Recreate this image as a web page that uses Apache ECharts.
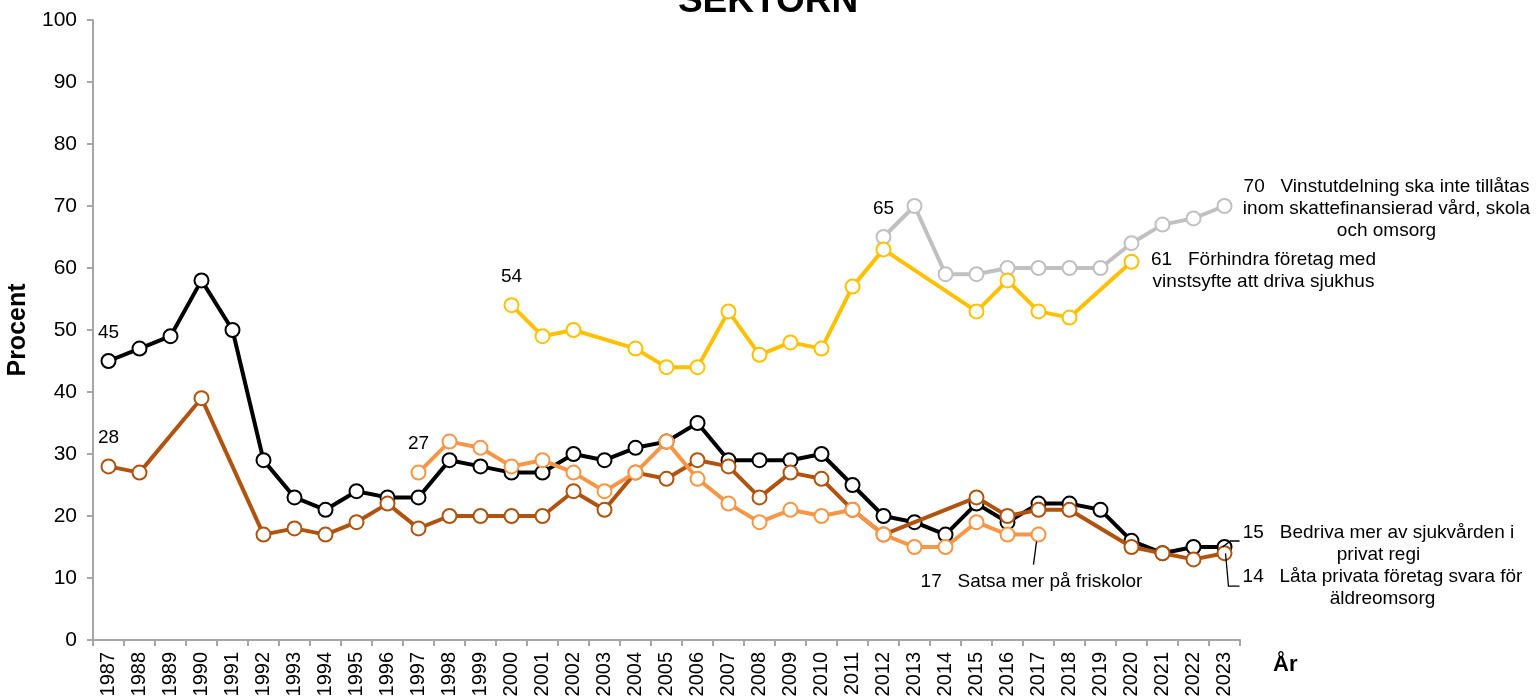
<!DOCTYPE html>
<html>
<head>
<meta charset="utf-8">
<script src="https://cdn.jsdelivr.net/npm/echarts@6/dist/echarts.min.js"></script>
<style>
  html, body { margin: 0; padding: 0; background: #fff; }
  #chart { width: 1536px; height: 699px; }
</style>
</head>
<body>
<div id="chart"></div>
<script>
// Survey years
const years = ['1987','1988','1989','1990','1991','1992','1993','1994','1995','1996','1997','1998','1999',
  '2000','2001','2002','2003','2004','2005','2006','2007','2008','2009','2010','2011','2012','2013',
  '2014','2015','2016','2017','2018','2019','2020','2021','2022','2023'];

// Percent agreeing with each proposal (null = not asked that year)
const vinstutdelning = [null,null,null,null,null,null,null,null,null,null,null,null,null,
  null,null,null,null,null,null,null,null,null,null,null,null,65,70,
  59,59,60,60,60,60,64,67,68,70];
const forhindraSjukhus = [null,null,null,null,null,null,null,null,null,null,null,null,null,
  54,49,50,null,47,44,44,53,46,48,47,57,63,null,
  null,53,58,53,52,null,61,null,null,null];
const privatSjukvard = [45,47,49,58,50,29,23,21,24,23,23,29,28,
  27,27,30,29,31,32,35,29,29,29,30,25,20,19,
  17,22,19,22,22,21,16,14,15,15];
const aldreomsorg = [28,27,null,39,null,17,18,17,19,22,18,20,20,
  20,20,24,21,27,26,29,28,23,27,26,21,17,null,
  null,23,20,21,21,null,15,14,13,14];
const friskolor = [null,null,null,null,null,null,null,null,null,null,27,32,31,
  28,29,27,24,27,32,26,22,19,21,20,21,17,15,
  15,19,17,17,null,null,null,null,null,null];

const yTicks = [0,10,20,30,40,50,60,70,80,90,100];

const FONT = '"Liberation Sans", Arial, Helvetica, sans-serif';
const SYM = 14;

function lastIndex(arr) {
  for (let i = arr.length - 1; i >= 0; i--) if (arr[i] != null) return i;
  return -1;
}
function firstIndex(arr) {
  for (let i = 0; i < arr.length; i++) if (arr[i] != null) return i;
  return -1;
}

// Build series data: value label above the first point, caption beside the last point
function buildData(arr, startLabel, endText, endOffset) {
  const f = firstIndex(arr), l = lastIndex(arr);
  return arr.map((v, i) => {
    if (v == null) return null;
    const item = { value: v };
    if (startLabel && i === f) {
      item.label = {
        show: true, position: 'top', distance: 11,
        formatter: String(v), color: '#000', fontSize: 19, fontFamily: FONT
      };
    }
    if (endText && i === l) {
      item.label = {
        show: true,
        position: [SYM / 2 + endOffset[0], SYM / 2 + endOffset[1]],
        align: 'center', verticalAlign: 'middle',
        formatter: v + '   ' + endText,
        color: '#000', fontSize: 19, lineHeight: 22, fontFamily: FONT
      };
    }
    return item;
  });
}

function lineSeries(name, color, data, z) {
  return {
    name: name, type: 'line', data: data, connectNulls: true, z: z,
    symbol: 'circle', symbolSize: SYM,
    lineStyle: { color: color, width: 4 },
    itemStyle: { color: '#fff', borderColor: color, borderWidth: 2 },
    emphasis: { disabled: true },
    animation: false
  };
}

const series = [
  lineSeries('Vinstutdelning', '#C0C0C0',
    buildData(vinstutdelning, true,
      'Vinstutdelning ska inte tillåtas\ninom skattefinansierad vård, skola\noch omsorg', [163, 4]), 2),
  lineSeries('Bedriva', '#000000',
    buildData(privatSjukvard, true, 'Bedriva mer av sjukvården i\nprivat regi', [155, -2]), 3),
  lineSeries('Äldreomsorg', '#B0530F',
    buildData(aldreomsorg, true, 'Låta privata företag svara för\näldreomsorg', [159, 36]), 4),
  lineSeries('Friskolor', '#F79646',
    buildData(friskolor, true, 'Satsa mer på friskolor', [-6, 48]), 5),
  lineSeries('Sjukhus', '#FFC000',
    buildData(forhindraSjukhus, true, 'Förhindra företag med\nvinstsyfte att driva sjukhus', [133, 10]), 6)
];

const chart = echarts.init(document.getElementById('chart'), null, { renderer: 'canvas' });

chart.setOption({
  backgroundColor: '#fff',
  animation: false,
  title: {
    text: 'SEKTORN', left: 'center', top: -22,
    textStyle: { fontSize: 37, fontWeight: 'bold', color: '#000', fontFamily: FONT }
  },
  grid: { left: 93, right: 296, top: 20, bottom: 59, containLabel: false, outerBoundsMode: 'none' },
  xAxis: {
    type: 'category', data: years, boundaryGap: true,
    name: 'År', nameLocation: 'end', nameGap: 33,
    nameTextStyle: { fontSize: 22, fontWeight: 'bold', color: '#000', fontFamily: FONT,
      verticalAlign: 'top', padding: [14, 0, 0, 0] },
    axisLine: { lineStyle: { color: '#A6A6A6', width: 2 } },
    axisTick: { show: true, alignWithLabel: false, interval: 0, length: 6,
      lineStyle: { color: '#A6A6A6', width: 2 } },
    axisLabel: { interval: 0, rotate: 90, margin: 12, fontSize: 20, color: '#000', fontFamily: FONT },
    splitLine: { show: false }
  },
  yAxis: {
    type: 'value', min: yTicks[0], max: yTicks[yTicks.length - 1], interval: 10,
    name: 'Procent', nameLocation: 'middle', nameGap: 60, nameRotate: 90,
    nameTextStyle: { fontSize: 25, fontWeight: 'bold', color: '#000', fontFamily: FONT },
    axisLine: { show: true, lineStyle: { color: '#A6A6A6', width: 2 } },
    axisTick: { show: true, inside: false, length: 6, lineStyle: { color: '#A6A6A6', width: 2 } },
    axisLabel: { margin: 16, fontSize: 21, color: '#000', fontFamily: FONT },
    splitLine: { show: false }
  },
  series: series
});

// Leader lines from end points to their captions, placed through the chart's scales
function px(seriesIndex, arr, idx) {
  return chart.convertToPixel({ seriesIndex: seriesIndex }, [idx, arr[idx]]);
}
const pB = px(1, privatSjukvard, lastIndex(privatSjukvard));
const pA = px(2, aldreomsorg, lastIndex(aldreomsorg));
const pF = px(3, friskolor, lastIndex(friskolor));

chart.setOption({
  graphic: [
    { type: 'polyline', z: 10, silent: true,
      shape: { points: [[pB[0] - 2, pB[1]], [pB[0] + 6, pB[1] - 6], [pB[0] + 15, pB[1] - 6]] },
      style: { stroke: '#000', lineWidth: 1.3, fill: null } },
    { type: 'polyline', z: 10, silent: true,
      shape: { points: [[pA[0] + 1, pA[1]], [pA[0] + 4, pA[1] + 33], [pA[0] + 15, pA[1] + 33]] },
      style: { stroke: '#000', lineWidth: 1.3, fill: null } },
    { type: 'line', z: 10, silent: true,
      shape: { x1: pF[0] - 2, y1: pF[1] + 7, x2: pF[0] - 5, y2: pF[1] + 30 },
      style: { stroke: '#000', lineWidth: 1.3 } }
  ]
});
</script>
</body>
</html>
